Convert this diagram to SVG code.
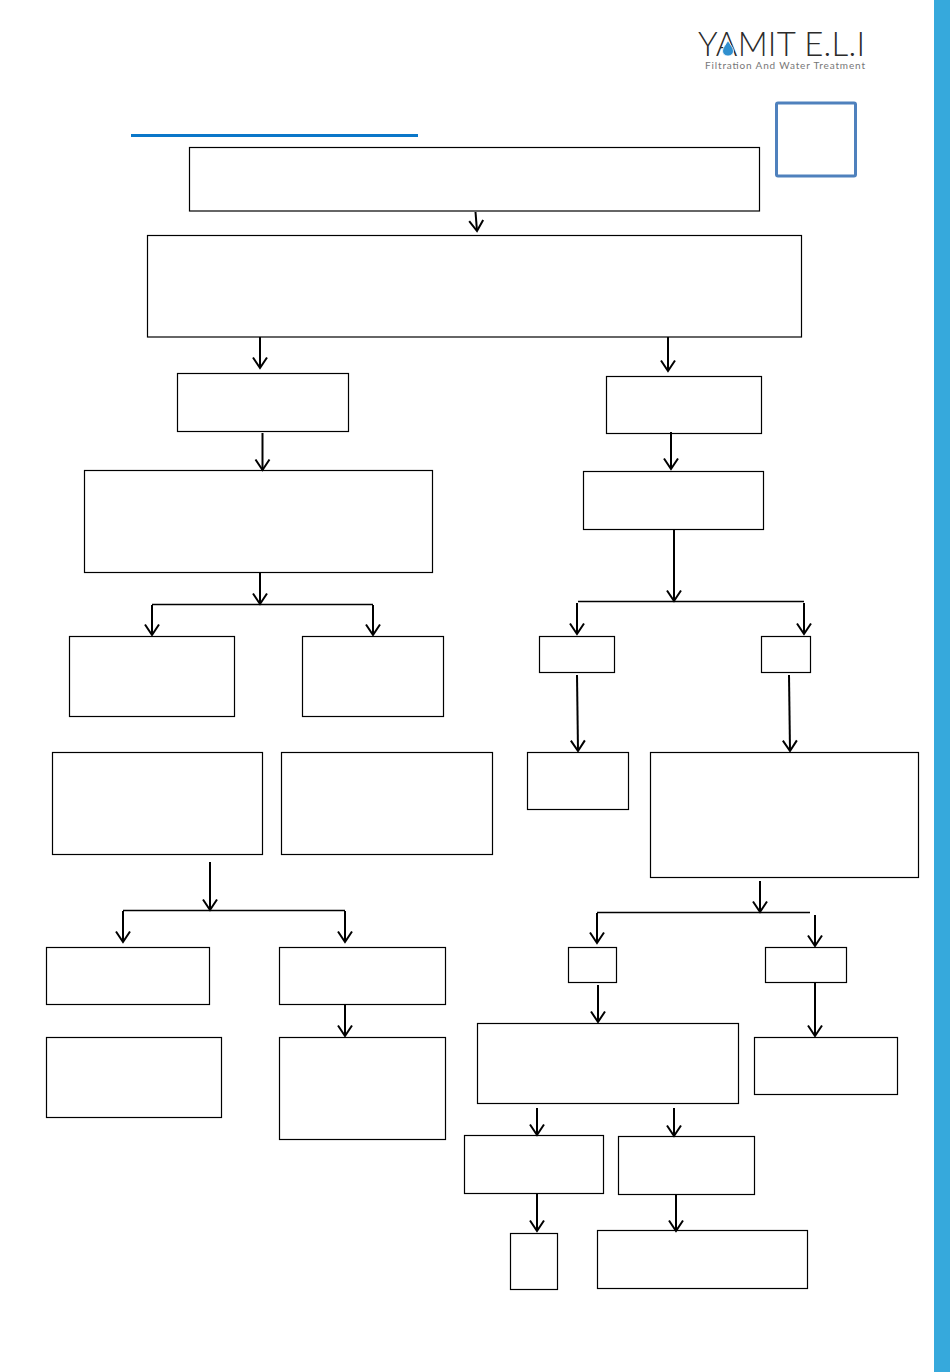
<svg xmlns="http://www.w3.org/2000/svg" width="950" height="1372" viewBox="0 0 950 1372">
<style>
.n{fill:#fff;stroke:#000;stroke-width:1.2}
.c{fill:none;stroke:#000;stroke-width:2;marker-end:url(#a)}
.t{fill:none;stroke:#000;stroke-width:1.600}
</style>
<defs>
<marker id="a" markerUnits="userSpaceOnUse" markerWidth="18" markerHeight="18" refX="12" refY="9" orient="auto" overflow="visible">
<path d="M1.500 2L12 9L1.500 16" fill="none" stroke="#000" stroke-width="2"/>
</marker>
</defs>
<rect width="950" height="1372" fill="#fff"/>
<rect id="sidebar" x="934" y="0" width="16" height="1372" fill="#36a9dc"/>
<g id="logo">
<text x="698" y="56" font-family="Lato, 'Liberation Sans', sans-serif" font-weight="300" font-size="33" fill="#2b2b2b" textLength="167" lengthAdjust="spacing">YAMIT E.L.I</text>
<path d="M728 40.500C725.500 45 722.500 48 722.500 51C722.500 54 725 56 728 56C731 56 733.500 54 733.500 51C733.500 48 730.500 45 728 40.500Z" fill="#2f8fce" stroke="#fff" stroke-width="0.800"/>
<text x="705" y="69" font-family="Lato, 'Liberation Sans', sans-serif" font-size="10" fill="#777" textLength="160" lengthAdjust="spacing">Filtration And Water Treatment</text>
</g>
<rect id="underline" x="131" y="134" width="287" height="3" fill="#0a77c9"/>
<rect id="badge" x="776.500" y="103" width="79" height="73" rx="1.500" fill="#fff" stroke="#4f81bd" stroke-width="3"/>
<g id="n1"><rect class="n" x="189.500" y="147.500" width="570" height="63.500"/></g>
<g id="n2"><rect class="n" x="147.500" y="235.500" width="654" height="101.500"/></g>
<g id="n3"><rect class="n" x="177.500" y="373.500" width="171" height="58"/></g>
<g id="n4"><rect class="n" x="606.500" y="376.500" width="155" height="57"/></g>
<g id="n5"><rect class="n" x="84.500" y="470.500" width="348" height="102"/></g>
<g id="n6"><rect class="n" x="583.500" y="471.500" width="180" height="58"/></g>
<g id="n7"><rect class="n" x="69.500" y="636.500" width="165" height="80"/></g>
<g id="n8"><rect class="n" x="302.500" y="636.500" width="141" height="80"/></g>
<g id="n9"><rect class="n" x="539.500" y="636.500" width="75" height="36"/></g>
<g id="n10"><rect class="n" x="761.500" y="636.500" width="49" height="36"/></g>
<g id="n11"><rect class="n" x="52.500" y="752.500" width="210" height="102"/></g>
<g id="n12"><rect class="n" x="281.500" y="752.500" width="211" height="102"/></g>
<g id="n13"><rect class="n" x="527.500" y="752.500" width="101" height="57"/></g>
<g id="n14"><rect class="n" x="650.500" y="752.500" width="268" height="125"/></g>
<g id="n15"><rect class="n" x="46.500" y="947.500" width="163" height="57"/></g>
<g id="n16"><rect class="n" x="279.500" y="947.500" width="166" height="57"/></g>
<g id="n17"><rect class="n" x="568.500" y="947.500" width="48" height="35"/></g>
<g id="n18"><rect class="n" x="765.500" y="947.500" width="81" height="35"/></g>
<g id="n19"><rect class="n" x="46.500" y="1037.500" width="175" height="80"/></g>
<g id="n20"><rect class="n" x="279.500" y="1037.500" width="166" height="102"/></g>
<g id="n21"><rect class="n" x="477.500" y="1023.500" width="261" height="80"/></g>
<g id="n22"><rect class="n" x="754.500" y="1037.500" width="143" height="57"/></g>
<g id="n23"><rect class="n" x="464.500" y="1135.500" width="139" height="58"/></g>
<g id="n24"><rect class="n" x="618.500" y="1136.500" width="136" height="58"/></g>
<g id="n25"><rect class="n" x="510.500" y="1233.500" width="47" height="56"/></g>
<g id="n26"><rect class="n" x="597.500" y="1230.500" width="210" height="58"/></g>
<g id="connectors">
<path class="t" d="M152 604.500H373M578 601.500H804M123 910.500H345M597 912.500H810"/>
<path class="c" d="M475.500 212L477 231"/>
<path class="c" d="M260 337V368"/>
<path class="c" d="M668 337V371"/>
<path class="c" d="M262.500 433V470"/>
<path class="c" d="M671 432V469"/>
<path class="c" d="M260 573V604"/>
<path class="c" d="M152 605V635"/>
<path class="c" d="M373 605V635"/>
<path class="c" d="M674 530V601"/>
<path class="c" d="M577 603V634"/>
<path class="c" d="M804 603V634"/>
<path class="c" d="M577 675L578 751"/>
<path class="c" d="M789 675L790 751"/>
<path class="c" d="M210 862V910"/>
<path class="c" d="M123 911V942"/>
<path class="c" d="M345 911V942"/>
<path class="c" d="M760 881V912"/>
<path class="c" d="M597 913V943"/>
<path class="c" d="M815 915V946"/>
<path class="c" d="M598 985V1022"/>
<path class="c" d="M815 983V1036"/>
<path class="c" d="M345 1005V1036"/>
<path class="c" d="M537 1108V1135"/>
<path class="c" d="M674 1108V1136"/>
<path class="c" d="M537 1194V1231"/>
<path class="c" d="M676 1195V1231"/>
</g>
</svg>
